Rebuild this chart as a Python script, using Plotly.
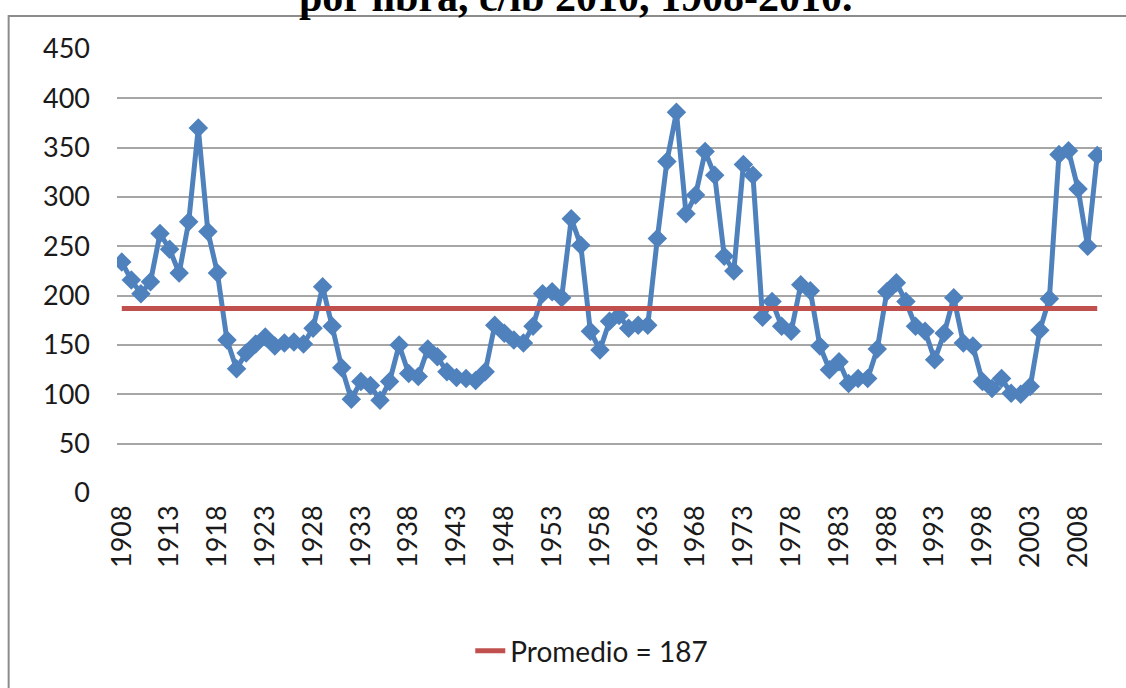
import plotly.graph_objects as go

years = list(range(1908, 2011))
precio = [
    234, 216, 202, 214, 263, 247, 223, 275, 370, 265,   # 1908-1917
    223, 155, 126, 142, 151, 158, 149, 152, 153, 151,   # 1918-1927
    167, 209, 169, 127, 95, 113, 109, 94, 113, 150,     # 1928-1937
    121, 118, 146, 138, 123, 117, 116, 114, 123, 170,   # 1938-1947
    162, 155, 152, 169, 202, 204, 198, 278, 251, 164,   # 1948-1957
    145, 174, 180, 167, 170, 170, 258, 336, 386, 283,   # 1958-1967
    302, 346, 322, 240, 225, 333, 322, 178, 194, 169,   # 1968-1977
    164, 211, 205, 149, 125, 133, 111, 116, 116, 146,   # 1978-1987
    204, 213, 194, 169, 164, 135, 162, 198, 152, 149,   # 1988-1997
    113, 106, 116, 101, 100, 108, 165, 197, 343, 347,   # 1998-2007
    308, 250, 342,                                      # 2008-2010
]
assert len(precio) == len(years)
promedio = 187
promedio_label = "Promedio = 187"
title_text = "por libra, c/lb 2010, 1908-2010."
x_ticks = list(range(1908, 2011, 5))
y_ticks = list(range(0, 451, 50))

BLUE = "#4F81BD"
RED = "#C0504D"
GRID = "#A6A6A6"
FONT = "Lato, 'Open Sans', sans-serif"

fig = go.Figure()
fig.add_trace(go.Scatter(
    x=years, y=precio, mode="lines+markers", name="Precio",
    line=dict(color=BLUE, width=5),
    marker=dict(symbol="diamond", size=15, color=BLUE),
    showlegend=False,
))
fig.add_trace(go.Scatter(
    x=years, y=[promedio] * len(years), mode="lines", name=promedio_label,
    line=dict(color=RED, width=5),
    showlegend=True,
))

fig.update_layout(
    width=1126, height=688,
    margin=dict(l=117, r=24, t=49, b=195),
    paper_bgcolor="white", plot_bgcolor="white",
    font=dict(family=FONT, size=27, color="#1a1a1a"),
    showlegend=True,
    legend=dict(orientation="h", x=0.482, xanchor="center", y=-0.356, yanchor="middle",
                font=dict(family=FONT, size=28, color="#1a1a1a"), bgcolor="rgba(0,0,0,0)"),
    xaxis=dict(range=[1907.5, 2010.5], tickvals=x_ticks, ticktext=[str(v) for v in x_ticks],
               tickangle=-90, showgrid=False, zeroline=False, showline=False,
               ticks="", ticklabelstandoff=6, tickfont=dict(family=FONT, size=27)),
    yaxis=dict(range=[0, 450], tickvals=y_ticks, showgrid=True, gridcolor=GRID, gridwidth=2,
               zeroline=False, showline=False, ticks="", ticklabelstandoff=26,
               tickfont=dict(family=FONT, size=27)),
    shapes=[dict(type="rect", xref="paper", yref="paper",
                 x0=-0.110, x1=1.2, y0=(493 - 16) / 444, y1=-0.6,
                 line=dict(color="#8C8C8C", width=2), layer="below")],
    annotations=[dict(text="<b>" + title_text + "</b>", xref="paper", yref="paper",
                      x=0.465, y=(493 - 22) / 444, xanchor="center", yanchor="bottom",
                      showarrow=False, font=dict(family="Liberation Serif, Times New Roman, serif",
                                                 size=42, color="black"))],
)

fig.write_html("out.html", config={"displayModeBar": False},
               post_script="document.body.style.margin='0';document.body.style.overflow='hidden';")
